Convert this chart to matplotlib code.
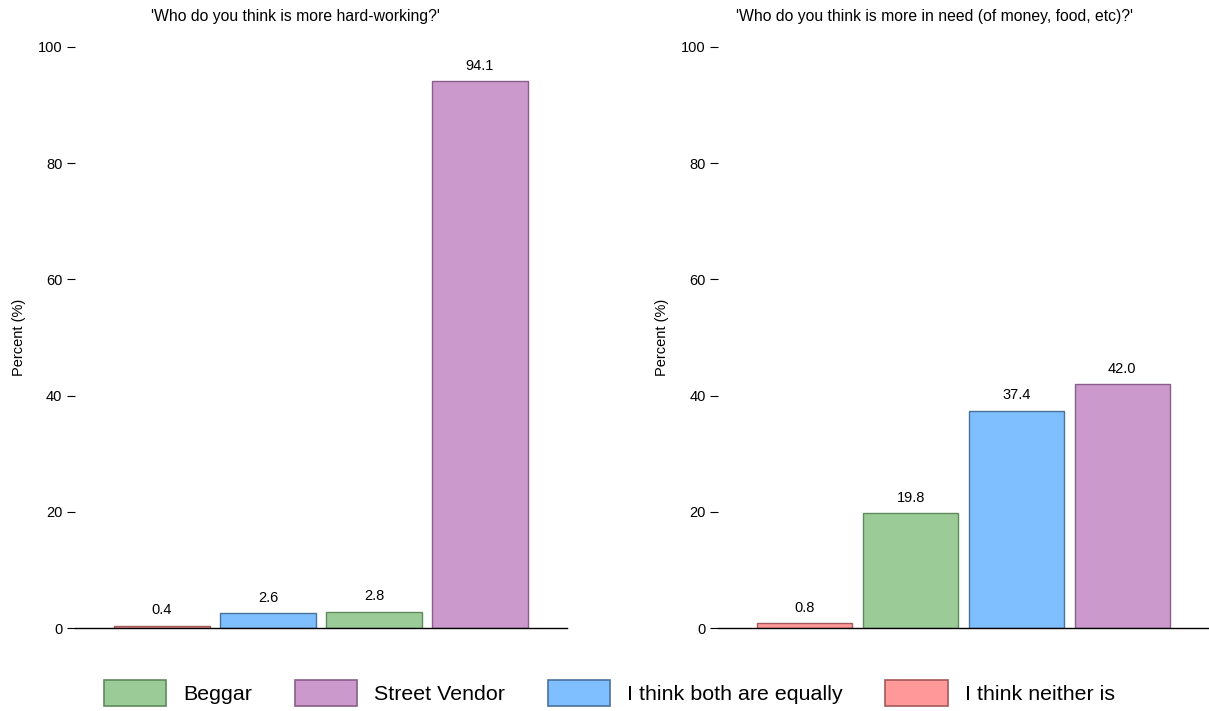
import matplotlib
matplotlib.use("Agg")
import matplotlib.pyplot as plt
from matplotlib.patches import Patch

plt.rcParams['font.family'] = ['Liberation Sans', 'DejaVu Sans']

## data
legend_labels = ["Beggar", "Street Vendor", "I think both are equally", "I think neither is"]
colors = {"Beggar": "#9bcc98", "Street Vendor": "#cc99cc",
          "I think both are equally": "#80bfff", "I think neither is": "#ff9999"}
edges = {"Beggar": "#5e8a5c", "Street Vendor": "#8a5e8a",
         "I think both are equally": "#4a7299", "I think neither is": "#a35a5a"}

hard_cats = ["I think neither is", "I think both are equally", "Beggar", "Street Vendor"]
hard_vals = [0.4, 2.6, 2.8, 94.1]
need_cats = ["I think neither is", "Beggar", "I think both are equally", "Street Vendor"]
need_vals = [0.8, 19.8, 37.4, 42.0]

titles = ["'Who do you think is more hard-working?'",
          "'Who do you think is more in need (of money, food, etc)?'"]
yticks = [0, 20, 40, 60, 80, 100]


def draw_panel(ax, cats, vals):
    x = range(len(cats))
    ax.bar(x, vals, width=0.9, color=[colors[c] for c in cats],
           edgecolor=[edges[c] for c in cats], linewidth=1.0)
    for i, v in enumerate(vals):
        ax.annotate("%.1f" % v, (i, v), xytext=(0, 6), textcoords="offset points",
                    ha="center", va="bottom", fontsize=10.5)
    ax.set_xlim(-0.82, 3.82)
    ax.set_ylim(0, 100)
    ax.set_yticks(yticks)
    ax.set_xticks([])
    for s in ["top", "right", "left"]:
        ax.spines[s].set_visible(False)
    ax.spines["bottom"].set_linewidth(1.0)
    ax.tick_params(axis="y", length=6, width=0.8, labelsize=10.5, pad=3)
    ax.set_ylabel("Percent (%)", fontsize=10.5)
    ax.yaxis.set_label_coords(-0.10, 0.5)


fig = plt.figure(figsize=(12.09, 7.11), dpi=100)
ax1 = fig.add_axes([75 / 1209, 83 / 711, 492 / 1209, 581 / 711])
ax2 = fig.add_axes([718 / 1209, 83 / 711, 491 / 1209, 581 / 711])
draw_panel(ax1, hard_cats, hard_vals)
draw_panel(ax2, need_cats, need_vals)

fig.text(295 / 1209, 1 - 17 / 711, titles[0], ha="center", va="center", fontsize=11.3)
fig.text(935 / 1209, 1 - 17 / 711, titles[1], ha="center", va="center", fontsize=11.3)

handles = [Patch(facecolor=colors[c], edgecolor=edges[c], linewidth=1.2) for c in legend_labels]
fig.legend(handles, legend_labels, loc="center", bbox_to_anchor=(0.5 + 5 / 1209, 1 - 693 / 711),
           ncol=4, frameon=False, fontsize=15.4, handlelength=2.9, handleheight=1.45,
           handletextpad=0.8, columnspacing=2.0)

fig.savefig("out.png", dpi=100)
